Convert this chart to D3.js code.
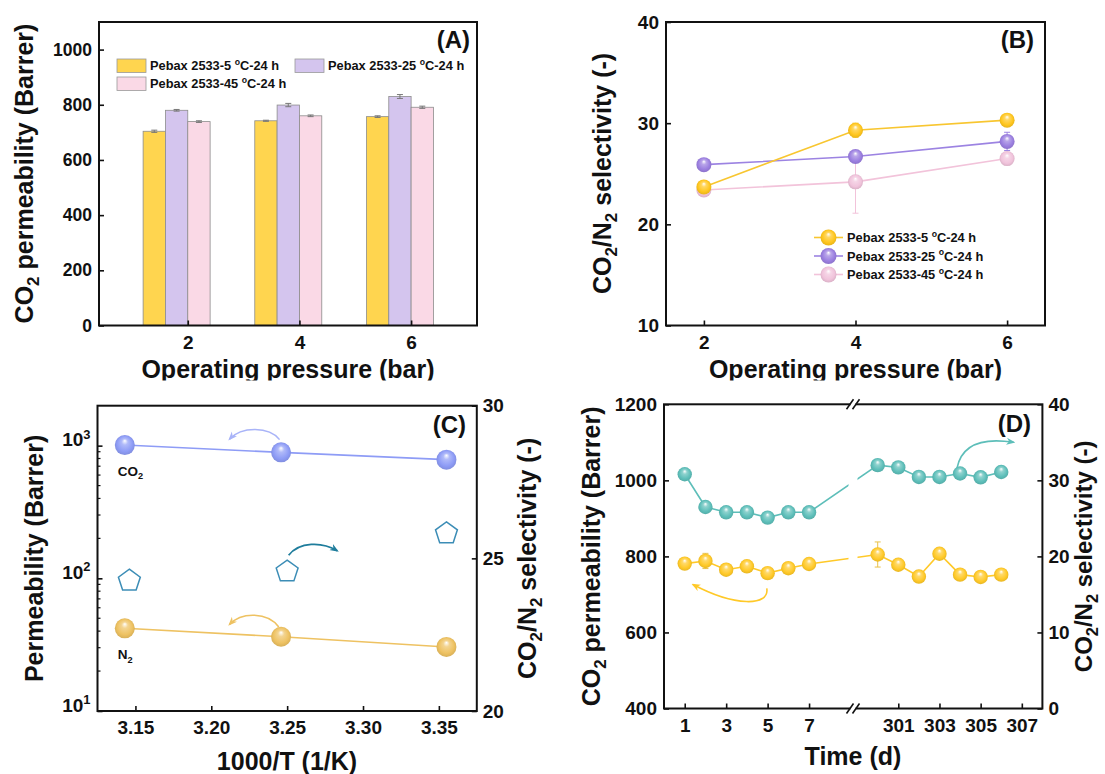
<!DOCTYPE html>
<html>
<head>
<meta charset="utf-8">
<script src="https://cdn.jsdelivr.net/npm/d3@7"></script>
<style>
  body { margin: 0; background: #fff; }
  text { font-family: "Liberation Sans", Arial, sans-serif; font-weight: bold; fill: #111; }
</style>
</head>
<body>
<svg id="fig" width="1105" height="774"></svg>
<script>
// ---- data ----
// (A) CO2 permeability vs operating pressure
var pressures = [2, 4, 6];
var sampleNames = ["Pebax 2533-5 ", "Pebax 2533-25 ", "Pebax 2533-45 "];
var permA5 = [704, 742, 757];
var permA25 = [780, 799, 830];
var permA45 = [739, 760, 791];
var errA5 = [4, 2, 3];
var errA25 = [3, 6, 7];
var errA45 = [3, 3, 4];

// (B) CO2/N2 selectivity vs operating pressure
var selB5 = [23.7, 29.3, 30.3];
var selB25 = [25.9, 26.7, 28.2];
var selB45 = [23.4, 24.2, 26.5];
var errB5 = [0.3, 0.7, 0.4];
var errB25 = [0.3, 0.3, 0.9];
var errB45 = [0.3, 3.1, 0.6];

// (C) Arrhenius-type plot
var invT = [3.143, 3.246, 3.355];
var co2PermC = [1010, 890, 784];
var n2PermC = [42, 36.3, 30.4];
var invTSel = [3.146, 3.25, 3.355];
var selC = [24.3, 24.6, 25.85];

// (D) long-term stability
var days = [1, 2, 3, 4, 5, 6, 7, 300, 301, 302, 303, 304, 305, 306];
var selD = [30.8, 26.5, 25.8, 25.8, 25.1, 25.8, 25.8, 32.0, 31.7, 30.45, 30.45, 30.9, 30.4, 31.1];
var permD = [781, 788, 765, 774, 756, 769, 780, 805, 778, 747, 807, 752, 746, 752];
var errPermD = [0, 20, 0, 0, 0, 0, 0, 33, 0, 0, 0, 0, 0, 0];
var dayTicks = [1, 3, 5, 7, 301, 303, 305, 307];

// ---- colours ----
var cYellow = "#FFD54F", cPurple = "#D4C5EE", cPink = "#FAD9E6";
var lnYellow = "#F8C630", lnPurple = "#9C83E2", lnPink = "#F2C3DA";
var cCO2 = "#8E9CF6", cN2 = "#EEC262", cPent = "#3C8DB6", cSelArrow = "#1F7D9C";
var cTeal = "#5DBEB9", cGold = "#FFC928";
var TITLE = 25, TAG = 24;

var svg = d3.select("#fig");
var defs = svg.append("defs");

function ballGradient(id, color) {
    var g = defs.append("radialGradient").attr("id", id)
        .attr("cx", "50%").attr("cy", "50%").attr("r", "55%")
        .attr("fx", "50%").attr("fy", "28%");
    g.append("stop").attr("offset", "0%").attr("stop-color", "#ffffff");
    g.append("stop").attr("offset", "28%").attr("stop-color", d3.interpolateRgb(color, "#ffffff")(0.3));
    g.append("stop").attr("offset", "70%").attr("stop-color", color);
    g.append("stop").attr("offset", "100%").attr("stop-color", d3.color(color).darker(0.35));
}
function arrowMarker(id, color) {
    defs.append("marker").attr("id", id)
        .attr("viewBox", "0 0 10 10").attr("refX", 8).attr("refY", 5)
        .attr("markerWidth", 9).attr("markerHeight", 9)
        .attr("markerUnits", "userSpaceOnUse").attr("orient", "auto")
        .append("path").attr("d", "M0,1 L10,5 L0,9 L3,5 Z").attr("fill", color);
}
ballGradient("gY", "#FFC61E");
ballGradient("gP", "#9B7FE0");
ballGradient("gK", "#F0C3DB");
ballGradient("gCO2", cCO2);
ballGradient("gN2", cN2);
ballGradient("gTeal", cTeal);
ballGradient("gGold", cGold);
arrowMarker("aCO2", "#A9B4F8");
arrowMarker("aN2", cN2);
arrowMarker("aSel", cSelArrow);
arrowMarker("aTeal", cTeal);
arrowMarker("aGold", cGold);

// text with sub/superscripts: parts are strings or [text, "sub"|"sup"]
function rich(sel, parts, fs) {
    var shift = 0;
    parts.forEach(function (p) {
        var t = typeof p === "string" ? p : p[0];
        var k = typeof p === "string" ? "" : p[1];
        var target = k === "sub" ? 0.25 * fs : (k === "sup" ? -0.4 * fs : 0);
        var ts = sel.append("tspan").attr("dy", target - shift).text(t);
        if (k) ts.attr("font-size", 0.68 * fs);
        shift = target;
    });
    return sel;
}
function label(x, y, parts, fs, anchor, rotate) {
    var t = svg.append("text").attr("font-size", fs).attr("text-anchor", anchor || "middle");
    if (rotate) t.attr("transform", "translate(" + x + "," + y + ") rotate(-90)");
    else t.attr("x", x).attr("y", y);
    return rich(t, parts, fs);
}
function styleAxis(g, fs) {
    g.select(".domain").remove();
    g.selectAll(".tick line").attr("stroke", "#111").attr("stroke-width", 1.6);
    g.selectAll(".tick text").attr("font-size", fs).attr("fill", "#111")
        .attr("font-family", "Liberation Sans, Arial, sans-serif").attr("font-weight", "bold");
}
function frame(x0, y0, x1, y1) {
    svg.append("rect").attr("x", x0).attr("y", y0).attr("width", x1 - x0).attr("height", y1 - y0)
        .attr("fill", "none").attr("stroke", "#111").attr("stroke-width", 2);
}
function balls(g, xs, ys, xScale, yScale, r, grad) {
    g.selectAll(null).data(xs).enter().append("circle")
        .attr("cx", function (d) { return xScale(d); })
        .attr("cy", function (d, i) { return yScale(ys[i]); })
        .attr("r", r).attr("fill", "url(#" + grad + ")");
}
function errBars(g, xs, ys, es, xScale, yScale, color, cap) {
    xs.forEach(function (x, i) {
        if (!es[i]) return;
        var px = xScale(x), y1 = yScale(ys[i] - es[i]), y2 = yScale(ys[i] + es[i]);
        g.append("line").attr("x1", px).attr("x2", px).attr("y1", y1).attr("y2", y2)
            .attr("stroke", color).attr("stroke-width", 1);
        [y1, y2].forEach(function (yy) {
            g.append("line").attr("x1", px - cap).attr("x2", px + cap).attr("y1", yy).attr("y2", yy)
                .attr("stroke", color).attr("stroke-width", 1);
        });
    });
}
function curvedArrow(p0, c1, c2, p1, color, marker, width) {
    var p = d3.path();
    p.moveTo(p0[0], p0[1]);
    p.bezierCurveTo(c1[0], c1[1], c2[0], c2[1], p1[0], p1[1]);
    svg.append("path").attr("d", p.toString()).attr("fill", "none")
        .attr("stroke", color).attr("stroke-width", width || 1.6)
        .attr("marker-end", "url(#" + marker + ")");
}
var deg = [["o", "sup"], "C-24 h"];
var plain = d3.format("d");

// ================= (A) =================
(function () {
    var L = 99, R = 477, T = 22, B = 325.5;
    var x = d3.scaleLinear().domain([0.41, 7.18]).range([L, R]);
    var y = d3.scaleLinear().domain([0, 1100]).range([B, T]);
    var g = svg.append("g");
    var series = [
        { v: permA5, e: errA5, fill: cYellow, off: -0.8 },
        { v: permA25, e: errA25, fill: cPurple, off: -0.4 },
        { v: permA45, e: errA45, fill: cPink, off: 0 }
    ];
    series.forEach(function (s) {
        g.selectAll(null).data(pressures).enter().append("rect")
            .attr("x", function (d) { return x(d + s.off); })
            .attr("width", function (d) { return x(d + s.off + 0.4) - x(d + s.off); })
            .attr("y", function (d, i) { return y(s.v[i]); })
            .attr("height", function (d, i) { return y(0) - y(s.v[i]); })
            .attr("fill", s.fill).attr("stroke", "#8c8c8c").attr("stroke-width", 0.8);
        errBars(g, pressures.map(function (p) { return p + s.off + 0.2; }), s.v, s.e, x, y, "#777", 3);
    });
    var ax = svg.append("g").attr("transform", "translate(" + L + ",0)")
        .call(d3.axisLeft(y).tickValues([0, 200, 400, 600, 800, 1000]).tickSize(-5).tickPadding(7).tickFormat(plain));
    styleAxis(ax, 17.5);
    var bx = svg.append("g").attr("transform", "translate(0," + B + ")")
        .call(d3.axisBottom(x).tickValues(pressures).tickSize(-5).tickPadding(10).tickFormat(plain));
    styleAxis(bx, 19);
    frame(L, T, R, B);

    // legend
    var leg = [
        { fill: cYellow, x: 117, y: 59, name: sampleNames[0] },
        { fill: cPurple, x: 295, y: 59, name: sampleNames[1] },
        { fill: cPink, x: 117, y: 77, name: sampleNames[2] }
    ];
    leg.forEach(function (l) {
        svg.append("rect").attr("x", l.x).attr("y", l.y).attr("width", 29).attr("height", 13.5)
            .attr("fill", l.fill).attr("stroke", "#999").attr("stroke-width", 0.8);
        label(l.x + 33, l.y + 11, [l.name].concat(deg), 12.8, "start");
    });
    label(470, 48, ["(A)"], TAG, "end");
    label(288, 378, ["Operating pressure (bar)"], TITLE);
    label(33, 173.5, ["CO", ["2", "sub"], " permeability (Barrer)"], TITLE, "middle", true);
})();

// ================= (B) =================
(function () {
    var L = 666, R = 1045, T = 22, B = 325.5;
    var x = d3.scaleLinear().domain([1.5, 6.5]).range([L, R]);
    var y = d3.scaleLinear().domain([10, 40]).range([B, T]);
    var g = svg.append("g");
    var series = [
        { v: selB45, e: errB45, ln: lnPink, grad: "gK" },
        { v: selB25, e: errB25, ln: lnPurple, grad: "gP" },
        { v: selB5, e: errB5, ln: lnYellow, grad: "gY" }
    ];
    series.forEach(function (s) {
        errBars(g, pressures, s.v, s.e, x, y, s.ln, 3);
        g.append("path").datum(pressures)
            .attr("d", d3.line().x(function (d) { return x(d); }).y(function (d, i) { return y(s.v[i]); }))
            .attr("fill", "none").attr("stroke", s.ln).attr("stroke-width", 1.6);
    });
    series.forEach(function (s) { balls(g, pressures, s.v, x, y, 7.5, s.grad); });

    var ax = svg.append("g").attr("transform", "translate(" + L + ",0)")
        .call(d3.axisLeft(y).tickValues([10, 20, 30, 40]).tickSize(-5).tickPadding(7).tickFormat(plain));
    styleAxis(ax, 19);
    var bx = svg.append("g").attr("transform", "translate(0," + B + ")")
        .call(d3.axisBottom(x).tickValues(pressures).tickSize(-5).tickPadding(10).tickFormat(plain));
    styleAxis(bx, 19);
    frame(L, T, R, B);

    var leg = [
        { ln: lnYellow, grad: "gY", name: sampleNames[0] },
        { ln: lnPurple, grad: "gP", name: sampleNames[1] },
        { ln: lnPink, grad: "gK", name: sampleNames[2] }
    ];
    leg.forEach(function (l, i) {
        var yy = 237.5 + i * 18.5;
        svg.append("line").attr("x1", 814).attr("x2", 843).attr("y1", yy).attr("y2", yy)
            .attr("stroke", l.ln).attr("stroke-width", 1.6);
        svg.append("circle").attr("cx", 828.5).attr("cy", yy).attr("r", 8).attr("fill", "url(#" + l.grad + ")");
        label(847, yy + 4.5, [l.name].concat(deg), 12.8, "start");
    });
    label(1034, 48, ["(B)"], TAG, "end");
    label(855.5, 378, ["Operating pressure (bar)"], TITLE);
    label(610.5, 173.5, ["CO", ["2", "sub"], "/N", ["2", "sub"], " selectivity (-)"], TITLE, "middle", true);
})();

// the original panels are cropped just under the top row's x titles
svg.append("rect").attr("x", 0).attr("y", 380.5).attr("width", 1105).attr("height", 12).attr("fill", "#fff");

// ================= (C) =================
(function () {
    var L = 97.5, R = 476.8, T = 405.7, B = 711;
    var x = d3.scaleLinear().domain([3.125, 3.375]).range([L, R]);
    var y = d3.scaleLog().domain([10, 2000]).range([B, T]);
    var y2 = d3.scaleLinear().domain([20, 30]).range([B, T]);
    var g = svg.append("g");

    [{ v: co2PermC, c: cCO2, grad: "gCO2" }, { v: n2PermC, c: cN2, grad: "gN2" }].forEach(function (s) {
        g.append("path").datum(invT)
            .attr("d", d3.line().x(function (d) { return x(d); }).y(function (d, i) { return y(s.v[i]); }))
            .attr("fill", "none").attr("stroke", s.c).attr("stroke-width", 1.6);
        balls(g, invT, s.v, x, y, 10, s.grad);
    });
    // selectivity pentagons
    var pent = d3.range(5).map(function (k) {
        var a = -Math.PI / 2 + k * 2 * Math.PI / 5;
        return [11.5 * Math.cos(a), 11.5 * Math.sin(a) + 1];
    });
    g.selectAll(null).data(invTSel).enter().append("path")
        .attr("d", "M" + pent.join("L") + "Z")
        .attr("transform", function (d, i) { return "translate(" + x(d) + "," + y2(selC[i]) + ")"; })
        .attr("fill", "none").attr("stroke", cPent).attr("stroke-width", 1.5);

    var ax = svg.append("g").attr("transform", "translate(" + L + ",0)")
        .call(d3.axisLeft(y).tickValues([10, 100, 1000]).tickSize(-5).tickPadding(7).tickFormat(function () { return ""; }));
    styleAxis(ax, 19);
    ax.selectAll(".tick").each(function (d) {
        var t = d3.select(this).append("text").attr("x", -7).attr("dy", "0.32em")
            .attr("text-anchor", "end").attr("font-size", 19);
        rich(t, ["10", [String(Math.round(Math.log10(d))), "sup"]], 19);
    });
    var minors = [];
    [10, 100, 1000].forEach(function (b) { for (var k = 2; k <= 9; k++) if (b * k < 2000) minors.push(b * k); });
    svg.append("g").selectAll(null).data(minors).enter().append("line")
        .attr("x1", L).attr("x2", L + 3).attr("y1", function (d) { return y(d); }).attr("y2", function (d) { return y(d); })
        .attr("stroke", "#111").attr("stroke-width", 1.2);
    var rx = svg.append("g").attr("transform", "translate(" + R + ",0)")
        .call(d3.axisRight(y2).tickValues([20, 25, 30]).tickSize(-5).tickPadding(6).tickFormat(plain));
    styleAxis(rx, 19);
    var bx = svg.append("g").attr("transform", "translate(0," + B + ")")
        .call(d3.axisBottom(x).tickValues([3.15, 3.2, 3.25, 3.3, 3.35]).tickSize(-5).tickPadding(10).tickFormat(d3.format(".2f")));
    styleAxis(bx, 19);
    frame(L, T, R, B);

    label(x(invT[0]) - 7, y(co2PermC[0]) + 31, ["CO", ["2", "sub"]], 13.5, "start");
    label(x(invT[0]) - 7, y(n2PermC[0]) + 31, ["N", ["2", "sub"]], 13.5, "start");

    curvedArrow([x(3.245), y(1110)], [x(3.238), y(1400)], [x(3.22), y(1400)], [x(3.212), y(1120)], "#A9B4F8", "aCO2");
    curvedArrow([x(3.2445), y(43)], [x(3.237), y(56)], [x(3.22), y(56)], [x(3.212), y(45)], cN2, "aN2");
    curvedArrow([x(3.251), y2(25.1)], [x(3.258), y2(25.55)], [x(3.273), y2(25.55)], [x(3.283), y2(25.25)], cSelArrow, "aSel", 1.8);

    label(466, 433, ["(C)"], TAG, "end");
    label(287, 770, ["1000/T (1/K)"], TITLE);
    label(43, 558.4, ["Permeability (Barrer)"], TITLE, "middle", true);
    label(536, 558.4, ["CO", ["2", "sub"], "/N", ["2", "sub"], " selectivity (-)"], TITLE, "middle", true);
})();

// ================= (D) =================
(function () {
    var L = 664, R = 1042.4, T = 404.3, B = 708.5, BRK = 853;
    var x = d3.scaleLinear().domain([0, 9.12, 298.8, 308]).range([L, BRK, BRK, R]);
    var y = d3.scaleLinear().domain([400, 1200]).range([B, T]);
    var y2 = d3.scaleLinear().domain([0, 40]).range([B, T]);
    var g = svg.append("g");

    var lineSel = d3.line().x(function (d) { return x(d); }).y(function (d, i) { return y2(selD[i]); });
    var linePerm = d3.line().x(function (d) { return x(d); }).y(function (d, i) { return y(permD[i]); });
    errBars(g, days, permD, errPermD, x, y, "#E9C24A", 3);
    g.append("path").datum(days).attr("d", lineSel).attr("fill", "none").attr("stroke", cTeal).attr("stroke-width", 1.6);
    g.append("path").datum(days).attr("d", linePerm).attr("fill", "none").attr("stroke", cGold).attr("stroke-width", 1.6);
    // gap in lines at the axis break
    g.append("rect").attr("x", BRK - 4.5).attr("y", T + 2).attr("width", 9).attr("height", B - T - 4).attr("fill", "#fff");
    balls(g, days, selD, x, y2, 7.2, "gTeal");
    balls(g, days, permD, x, y, 7.2, "gGold");

    var ax = svg.append("g").attr("transform", "translate(" + L + ",0)")
        .call(d3.axisLeft(y).tickValues([400, 600, 800, 1000, 1200]).tickSize(-5).tickPadding(7).tickFormat(plain));
    styleAxis(ax, 19);
    var rx = svg.append("g").attr("transform", "translate(" + R + ",0)")
        .call(d3.axisRight(y2).tickValues([0, 10, 20, 30, 40]).tickSize(-5).tickPadding(6).tickFormat(plain));
    styleAxis(rx, 19);
    var bx = svg.append("g").attr("transform", "translate(0," + B + ")")
        .call(d3.axisBottom(x).tickValues(dayTicks).tickSize(-5).tickPadding(10).tickFormat(plain));
    styleAxis(bx, 19);
    frame(L, T, R, B);

    // axis break marks
    [T, B].forEach(function (yy) {
        svg.append("rect").attr("x", BRK - 2.5).attr("y", yy - 2).attr("width", 5).attr("height", 4).attr("fill", "#fff");
        [-3, 3].forEach(function (dx) {
            svg.append("line").attr("x1", BRK + dx - 3.5).attr("y1", yy + 5).attr("x2", BRK + dx + 3.5).attr("y2", yy - 5)
                .attr("stroke", "#111").attr("stroke-width", 1.6);
        });
    });

    curvedArrow([x(303.85), y2(31.6)], [x(304.1), y2(35)], [x(305.2), y2(35.6)], [x(306.6), y2(35)], cTeal, "aTeal");
    curvedArrow([x(4.96), y(716)], [x(5.1), y(668)], [x(3.4), y(668)], [x(1.4), y(726)], cGold, "aGold");

    label(1031, 432, ["(D)"], TAG, "end");
    label(853, 765, ["Time (d)"], TITLE);
    label(600, 556.4, ["CO", ["2", "sub"], " permeability (Barrer)"], TITLE, "middle", true);
    label(1092, 556.4, ["CO", ["2", "sub"], "/N", ["2", "sub"], " selectivity (-)"], 24, "middle", true);
})();
</script>
</body>
</html>
